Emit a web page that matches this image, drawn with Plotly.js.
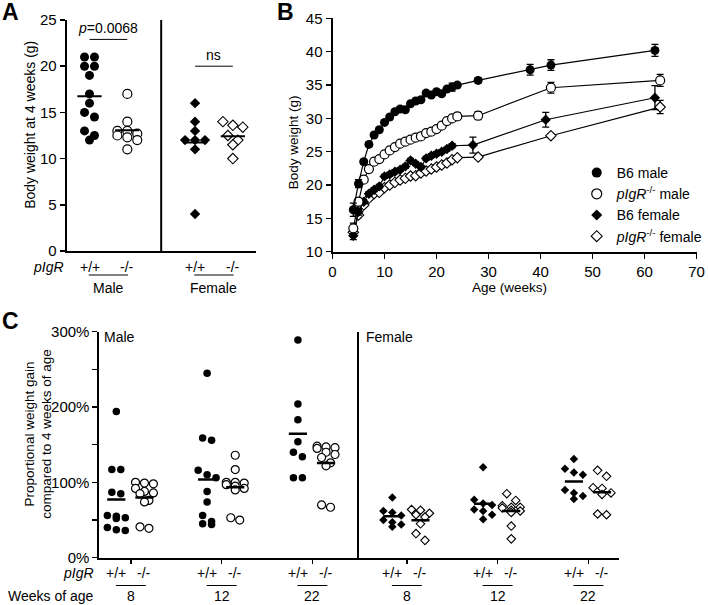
<!DOCTYPE html>
<html><head><meta charset="utf-8">
<script src="https://cdn.plot.ly/plotly-3.0.1.min.js"></script>
<style>html,body{margin:0;padding:0;background:#fff}#chart{width:708px;height:605px}</style>
</head><body><div id="chart"></div>
<script>
// ---------------- Panel A data: body weight at 4 weeks (g) ----------------
const aSexes = ['Male', 'Female'];
const aGenotypes = ['+/+', '-/-'];
const aMaleWT = [21, 21, 20, 20, 19, 17, 16, 15, 14.5, 13, 12.5, 12];
const aMaleKO = [17, 14, 13, 13, 12.7, 12.5, 12.3, 12, 11];
const aFemaleWT = [16, 14, 13, 12, 12, 12, 11, 4];
const aFemaleKO = [14, 13.6, 13.4, 12.5, 12, 11.5, 10];
const aPText = '<i>p</i>=0.0068';
const aNsText = 'ns';

// ---------------- Panel B data: body weight over age ----------------
const bNames = ['B6 male', '<i>pIgR</i><sup>-/-</sup> male', 'B6 female', '<i>pIgR</i><sup>-/-</sup> female'];
const bAgeMaleWT = [4,5,6,7,8,9,10,11,12,13,14,15,16,17,18,19,20,21,22,23,24,28,38,42,62];
const bWtMaleWT  = [16.3,20.2,23.5,26.1,27.5,28.3,29.4,30.2,31.0,31.4,31.3,32.2,32.6,32.8,33.8,33.5,34.0,33.7,34.4,34.7,35.0,35.7,37.3,38.0,40.2];
const bErrMaleWT = [1.0,0.6,0.3,0.3,0.3,0.3,0.3,0.3,0.3,0.3,0.3,0.3,0.3,0.3,0.3,0.3,0.3,0.3,0.3,0.6,0.3,0.4,0.8,0.8,0.9];
const bAgeMaleKO = [4,5,6,7,8,9,10,11,12,13,14,15,16,17,18,19,20,21,22,23,24,28,42,63];
const bWtMaleKO  = [13.5,17.5,20.8,22.4,23.5,23.9,24.6,25.2,25.7,26.2,26.5,26.8,27.1,27.3,27.8,28.0,28.4,28.9,29.6,30.0,30.3,30.4,34.6,35.7];
const bErrMaleKO = [0.8,0.5,0.3,0.3,0.3,0.3,0.3,0.3,0.3,0.3,0.3,0.3,0.3,0.3,0.3,0.3,0.3,0.3,0.3,0.3,0.5,0.6,0.8,0.9];
const bAgeFemWT = [4,5,6,7,8,9,10,11,12,13,14,15,16,17,18,19,20,21,22,23,27,41,62];
const bWtFemWT  = [12.4,16.0,17.5,18.7,19.3,19.8,21.3,21.6,22.0,22.3,22.8,23.7,23.2,22.7,24.0,24.4,24.7,25.0,25.4,25.9,26.0,29.8,33.1];
const bErrFemWT = [0.6,0.5,0.3,0.3,0.3,0.3,0.3,0.3,0.3,0.3,0.3,0.3,0.3,0.3,0.3,0.3,0.3,0.3,0.3,0.3,1.2,1.1,1.8];
const bAgeFemKO = [4,5,6,7,8,9,10,11,12,13,14,15,16,17,18,19,20,21,22,23,24,28,42,63];
const bWtFemKO  = [12.9,15.5,17.0,18.0,18.7,18.9,19.6,20.0,20.4,20.75,21.0,21.35,21.4,21.8,22.1,22.4,22.7,23.0,23.3,23.8,24.1,24.2,27.4,31.7];
const bErrFemKO = [0.5,0.4,0.3,0.3,0.3,0.3,0.3,0.3,0.3,0.3,0.3,0.3,0.3,0.3,0.3,0.3,0.3,0.3,0.3,0.3,0.3,0.3,0.3,1.0];

// ---------------- Panel C data: proportional weight gain (%) ----------------
const cWeeks = ['8', '12', '22'];
const cMaleWT8  = [194,117,117,87,85,56,55,53,52,40,37,36];
const cMaleKO8  = [100,99,98,92,88,86,85,76,74,41,39];
const cMaleWT12 = [245,159,156,116,110,106,88,74,56,48,45,44];
const cMaleKO12 = [136,117,100,100,99,97,95,92,90,53,50];
const cMaleWT22 = [289,204,183,154,140,134,106,106];
const cMaleKO22 = [148,147,146,145,140,137,133,126,122,70,67];
const cFemWT8  = [80,62,60,56,50,47,44,41];
const cFemKO8  = [64,63,59,57,54,45,32,23];
const cFemWT12 = [120,77,72,70,64,62,57,51];
const cFemKO12 = [85,76,69,67,67,66,63,62,60,42,25];
const cFemWT22 = [131,118,113,110,90,86,82,78];
const cFemKO22 = [116,108,93,92,86,84,58,57];

// ---------------- layout helpers ----------------
const W = 708, H = 605;
const FONT = 'Arial, "Liberation Sans", Helvetica, sans-serif';
const px2x = p => p / W;
const px2y = p => 1 - p / H;

// Axis geometry (pixels)
const A = {x0: 67, x1: 257, y0: 251, y1: 20, xr: [0.395, 5.39], yr: [0, 25]};
const B = {x0: 334.4, x1: 700.5, y0: 251.7, y1: 18.4, xr: [0, 70], yr: [10, 45]};
const C = {x0: 100, x1: 623, y0: 557.7, y1: 331.7, xr: [0.654, 6.382], yr: [0, 300]};
const pxPerX = g => (g.x1 - g.x0) / (g.xr[1] - g.xr[0]);
const pxPerY = g => (g.y0 - g.y1) / (g.yr[1] - g.yr[0]);

// slot positions (layout)
const aPos = [1, 2, 3.79, 4.79];
const cCenters = [1, 2, 3, 4.04, 5.04, 6.04];
const cOffWT = -0.16, cOffKO = 0.15;

// swarm: spread near-equal values horizontally (GraphPad-like rows)
function swarm(values, center, g, d) {
  const ppx = pxPerX(g), ppy = pxPerY(g);
  const idx = values.map((v, i) => i).sort((a, b) => values[b] - values[a]);
  const xs = new Array(values.length);
  let cluster = [];
  const flush = () => {
    const n = cluster.length;
    cluster.forEach((k, i) => { xs[k] = center + ((i - (n - 1) / 2) * d) / ppx; });
    cluster = [];
  };
  idx.forEach(k => {
    if (cluster.length && ((values[cluster[0]] - values[k]) * ppy > d * 0.85 || cluster.length >= 3)) flush();
    cluster.push(k);
  });
  flush();
  return xs;
}
const mean = a => a.reduce((s, v) => s + v, 0) / a.length;

const filledCircle = s => ({symbol: 'circle', size: s, color: 'black', line: {width: 0}});
const openCircle = s => ({symbol: 'circle', size: s, color: 'white', line: {color: 'black', width: 1.2}});
const filledDiamond = s => ({symbol: 'diamond', size: s, color: 'black', line: {width: 0}});
const openDiamond = s => ({symbol: 'diamond', size: s, color: 'white', line: {color: 'black', width: 1.1}});

const traces = [];
const shapes = [];
const annotations = [];

function dots(values, center, g, xa, ya, marker, d, halfW, lw) {
  traces.push({type: 'scatter', mode: 'markers', x: swarm(values, center, g, d), y: values,
    xaxis: xa, yaxis: ya, marker: marker, showlegend: false, hoverinfo: 'skip', cliponaxis: false});
  const m = mean(values);
  traces.push({type: 'scatter', mode: 'lines', x: [center - halfW, center + halfW], y: [m, m],
    xaxis: xa, yaxis: ya, line: {color: 'black', width: lw}, showlegend: false, hoverinfo: 'skip'});
}

// ---------------- Panel A ----------------
dots(aMaleWT, aPos[0], A, 'x', 'y', filledCircle(9), 10, 0.32, 2);
dots(aMaleKO, aPos[1], A, 'x', 'y', openCircle(9), 10, 0.32, 2);
dots(aFemaleWT, aPos[2], A, 'x', 'y', filledDiamond(8), 10, 0.32, 2);
dots(aFemaleKO, aPos[3], A, 'x', 'y', openDiamond(8), 10, 0.32, 2);

// ---------------- Panel B ----------------
function series(x, y, err, marker) {
  traces.push({type: 'scatter', mode: 'lines+markers', x: x, y: y, xaxis: 'x2', yaxis: 'y2',
    line: {color: 'black', width: 1.2}, marker: marker, showlegend: false, hoverinfo: 'skip',
    error_y: {type: 'data', array: err, visible: true, color: 'black', thickness: 1.3, width: 3.5}});
}
series(bAgeFemKO, bWtFemKO, bErrFemKO, openDiamond(8));
series(bAgeFemWT, bWtFemWT, bErrFemWT, filledDiamond(8));
series(bAgeMaleKO, bWtMaleKO, bErrMaleKO, openCircle(9));
series(bAgeMaleWT, bWtMaleWT, bErrMaleWT, filledCircle(9));
const legendMarkers = [filledCircle(10), openCircle(10), filledDiamond(8.5), openDiamond(8.5)];
bNames.forEach((n, i) => traces.push({type: 'scatter', mode: 'markers', x: [null], y: [null],
  xaxis: 'x2', yaxis: 'y2', name: n, marker: legendMarkers[i], showlegend: true}));

// ---------------- Panel C ----------------
const cGroups = [
  [cMaleWT8, cMaleKO8], [cMaleWT12, cMaleKO12], [cMaleWT22, cMaleKO22],
  [cFemWT8, cFemKO8], [cFemWT12, cFemKO12], [cFemWT22, cFemKO22]];
cGroups.forEach((pair, k) => {
  const female = k >= 3;
  dots(pair[0], cCenters[k] + cOffWT, C, 'x3', 'y3', female ? filledDiamond(6.5) : filledCircle(7.5), 9, 0.1, 2.5);
  dots(pair[1], cCenters[k] + cOffKO, C, 'x3', 'y3', female ? openDiamond(6.5) : openCircle(8), 9, 0.1, 2.5);
});

// ---------------- shapes ----------------
shapes.push({type: 'line', xref: 'x', yref: 'paper', x0: 2.895, x1: 2.895, y0: px2y(253), y1: px2y(20), line: {color: 'black', width: 2}});
shapes.push({type: 'line', xref: 'x3', yref: 'paper', x0: 3.502, x1: 3.502, y0: px2y(558), y1: px2y(332), line: {color: 'black', width: 2}});
shapes.push({type: 'line', xref: 'x', yref: 'y', x0: aPos[0], x1: aPos[1], y0: 22.9, y1: 22.9, line: {color: 'black', width: 1}});
shapes.push({type: 'line', xref: 'x', yref: 'y', x0: aPos[2], x1: aPos[3], y0: 20, y1: 20, line: {color: 'black', width: 1}});
[[aPos[0], aPos[1]], [aPos[2], aPos[3]]].forEach(p => shapes.push({type: 'line', xref: 'x', yref: 'paper',
  x0: p[0] - 0.02, x1: p[1] + 0.02, y0: px2y(275), y1: px2y(275), line: {color: 'black', width: 1}}));
cCenters.forEach(c => shapes.push({type: 'line', xref: 'x3', yref: 'paper',
  x0: c - 0.165, x1: c + 0.165, y0: px2y(585.5), y1: px2y(585.5), line: {color: 'black', width: 1}}));

// ---------------- annotations ----------------
function ann(text, x, y, o) {
  const base = {text: text, x: x, y: y, xref: 'paper', yref: 'paper', showarrow: false,
    xanchor: 'center', yanchor: 'middle', font: {family: FONT, size: 13.5, color: 'black'}};
  annotations.push(Object.assign(base, o || {}));
}
const f = s => ({family: FONT, size: s, color: 'black'});
const bold = {family: FONT, size: 23, color: 'black', weight: 'bold'};
ann('<b>A</b>', 0, 1, {xanchor: 'left', yanchor: 'top', font: bold, yshift: 3});
ann('<b>B</b>', px2x(277), 1, {xanchor: 'left', yanchor: 'top', font: bold, yshift: 3});
ann('<b>C</b>', 0, px2y(309), {xanchor: 'left', yanchor: 'top', font: bold, yshift: 3});

// A texts
ann(aPText, (aPos[0] + aPos[1]) / 2, 22.9, {xref: 'x', yref: 'y', yanchor: 'bottom', yshift: 1, font: f(14)});
ann(aNsText, (aPos[2] + aPos[3]) / 2, 20, {xref: 'x', yref: 'y', yanchor: 'bottom', yshift: 1, font: f(14)});
ann('Body weight at 4 weeks (g)', px2x(30), px2y(125), {textangle: -90, font: f(14)});
ann('<i>pIgR</i>', px2x(66), px2y(267), {xanchor: 'right', font: f(14)});
aPos.forEach((p, i) => ann(aGenotypes[i % 2], p, px2y(267), {xref: 'x', font: f(14)}));
ann(aSexes[0], (aPos[0] + aPos[1]) / 2, px2y(288), {xref: 'x', font: f(14)});
ann(aSexes[1], (aPos[2] + aPos[3]) / 2, px2y(288), {xref: 'x', font: f(14)});

// B texts
ann('Body weight (g)', px2x(295), px2y(142), {textangle: -90, font: f(13.5)});
ann('Age (weeks)', px2x(512), px2y(287), {font: f(13.5)});

// C texts
ann('Proportional weight gain<br>compared to 4 weeks of age', px2x(38), px2y(434), {textangle: -90, font: f(13.5)});
ann('Male', px2x(103), px2y(337), {xanchor: 'left', font: f(14)});
ann('Female', px2x(366), px2y(337), {xanchor: 'left', font: f(14)});
ann('<i>pIgR</i>', px2x(97), px2y(573), {xanchor: 'right', font: f(14)});
ann('Weeks of age', px2x(97), px2y(596), {xanchor: 'right', font: f(14)});
cCenters.forEach((c, k) => {
  ann(aGenotypes[0], c + cOffWT, px2y(573), {xref: 'x3', font: f(14)});
  ann(aGenotypes[1], c + cOffKO, px2y(573), {xref: 'x3', font: f(14)});
  ann(cWeeks[k % 3], c, px2y(596), {xref: 'x3', font: f(14)});
});

// ---------------- axes ----------------
const tickFont = {family: FONT, size: 15, color: 'black'};
const baseAxis = {showgrid: false, zeroline: false, showline: true, linecolor: 'black', linewidth: 2,
  ticks: 'outside', ticklen: 5, tickwidth: 1.5, tickcolor: 'black', tickfont: tickFont, fixedrange: true};

const layout = {
  width: W, height: H, margin: {l: 0, r: 0, t: 0, b: 0}, paper_bgcolor: 'white', plot_bgcolor: 'rgba(0,0,0,0)',
  font: {family: FONT, size: 13, color: 'black'},
  xaxis: Object.assign({}, baseAxis, {domain: [px2x(A.x0), px2x(A.x1)], range: A.xr, anchor: 'y',
    ticks: '', showticklabels: false}),
  yaxis: Object.assign({}, baseAxis, {domain: [px2y(A.y0), px2y(A.y1)], range: A.yr, anchor: 'x', dtick: 5}),
  xaxis2: Object.assign({}, baseAxis, {domain: [px2x(B.x0), px2x(B.x1)], range: B.xr, anchor: 'y2', dtick: 10}),
  yaxis2: Object.assign({}, baseAxis, {domain: [px2y(B.y0), px2y(B.y1)], range: B.yr, anchor: 'x2', dtick: 5}),
  xaxis3: Object.assign({}, baseAxis, {domain: [px2x(C.x0), px2x(C.x1)], range: C.xr, anchor: 'y3',
    tickmode: 'array', tickvals: cCenters, showticklabels: false, ticklen: 4}),
  yaxis3: Object.assign({}, baseAxis, {domain: [px2y(C.y0), px2y(C.y1)], range: C.yr, anchor: 'x3',
    tick0: 0, dtick: 100, ticksuffix: '%',
    minor: {dtick: 50, ticks: 'outside', ticklen: 5, tickwidth: 1.5, tickcolor: 'black', showgrid: false}}),
  legend: {x: px2x(580), y: px2y(157), xanchor: 'left', yanchor: 'top', bgcolor: 'rgba(0,0,0,0)',
    font: {family: FONT, size: 14, color: 'black'}, tracegroupgap: 0, itemclick: false, itemdoubleclick: false},
  shapes: shapes,
  annotations: annotations
};

Plotly.newPlot('chart', traces, layout, {staticPlot: true, displayModeBar: false});
</script>
</body></html>
